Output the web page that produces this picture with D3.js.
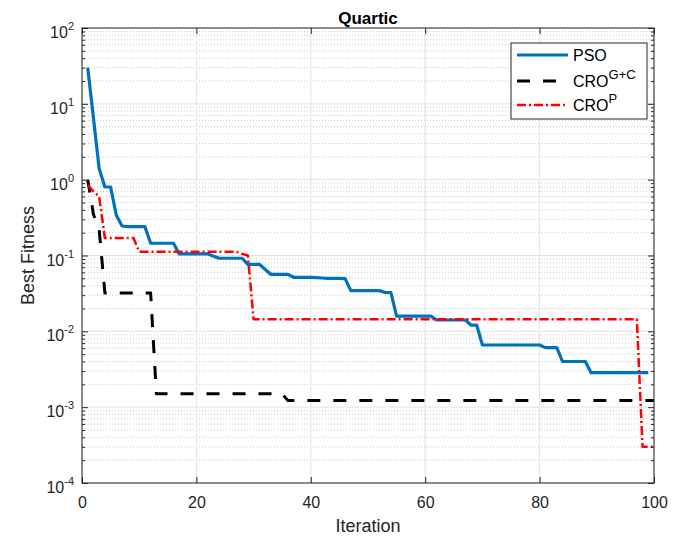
<!DOCTYPE html>
<html><head><meta charset="utf-8">
<script src="https://cdn.jsdelivr.net/npm/d3@7"></script>
<style>
body{margin:0;background:#fff}
text{font-family:"Liberation Sans",Arial,Helvetica,sans-serif}
</style>
</head><body>
<svg id="c" width="698" height="537"></svg>
<script>
// ---------- data ----------
const psoValues = [30, 6.5, 1.4, 0.8, 0.8, 0.34, 0.245, 0.24, 0.24, 0.24,
  0.24, 0.145, 0.145, 0.145, 0.145, 0.145, 0.105, 0.105, 0.105, 0.105,
  0.105, 0.105, 0.098, 0.092, 0.092, 0.092, 0.092, 0.092, 0.0766, 0.0766,
  0.0766, 0.066, 0.0565, 0.0565, 0.0565, 0.0565, 0.0516, 0.0516, 0.0516, 0.0516,
  0.051, 0.0505, 0.05, 0.05, 0.05, 0.0495, 0.0344, 0.0344, 0.0344, 0.0344,
  0.0344, 0.0344, 0.0325, 0.0325, 0.0159, 0.0159, 0.0159, 0.0159, 0.0159, 0.0159,
  0.0159, 0.0141, 0.0141, 0.0141, 0.0141, 0.0141, 0.0141, 0.0121, 0.0121, 0.0066,
  0.0066, 0.0066, 0.0066, 0.0066, 0.0066, 0.0066, 0.0066, 0.0066, 0.0066, 0.0066,
  0.0061, 0.0061, 0.0061, 0.004, 0.004, 0.004, 0.004, 0.004, 0.00285, 0.00285,
  0.00285, 0.00285, 0.00285, 0.00285, 0.00285, 0.00285, 0.00285, 0.00285, 0.00285];

const croGCValues = [1.0, 0.35, 0.22, 0.032, 0.032, 0.032, 0.032, 0.032, 0.032, 0.032,
  0.032, 0.032, 0.0015, 0.0015, 0.0015, 0.0015, 0.0015, 0.0015, 0.0015, 0.0015,
  0.0015, 0.0015, 0.0015, 0.0015, 0.0015, 0.0015, 0.0015, 0.0015, 0.0015, 0.0015,
  0.0015, 0.0015, 0.0015, 0.0015, 0.0015, 0.00122, 0.00122, 0.00122, 0.00122, 0.00122,
  0.00122, 0.00122, 0.00122, 0.00122, 0.00122, 0.00122, 0.00122, 0.00122, 0.00122, 0.00122,
  0.00122, 0.00122, 0.00122, 0.00122, 0.00122, 0.00122, 0.00122, 0.00122, 0.00122, 0.00122,
  0.00122, 0.00122, 0.00122, 0.00122, 0.00122, 0.00122, 0.00122, 0.00122, 0.00122, 0.00122,
  0.00122, 0.00122, 0.00122, 0.00122, 0.00122, 0.00122, 0.00122, 0.00122, 0.00122, 0.00122,
  0.00122, 0.00122, 0.00122, 0.00122, 0.00122, 0.00122, 0.00122, 0.00122, 0.00122, 0.00122,
  0.00122, 0.00122, 0.00122, 0.00122, 0.00122, 0.00122, 0.00122, 0.00122, 0.00122, 0.00122];

const croPValues = [0.85, 0.7, 0.6, 0.17, 0.17, 0.17, 0.17, 0.17, 0.17, 0.112,
  0.112, 0.112, 0.112, 0.112, 0.112, 0.112, 0.112, 0.112, 0.112, 0.112,
  0.112, 0.112, 0.112, 0.112, 0.112, 0.112, 0.112, 0.105, 0.1, 0.0144,
  0.0144, 0.0144, 0.0144, 0.0144, 0.0144, 0.0144, 0.0144, 0.0144, 0.0144, 0.0144,
  0.0144, 0.0144, 0.0144, 0.0144, 0.0144, 0.0144, 0.0144, 0.0144, 0.0144, 0.0144,
  0.0144, 0.0144, 0.0144, 0.0144, 0.0144, 0.0144, 0.0144, 0.0144, 0.0144, 0.0144,
  0.0144, 0.0144, 0.0144, 0.0144, 0.0144, 0.0144, 0.0144, 0.0144, 0.0144, 0.0144,
  0.0144, 0.0144, 0.0144, 0.0144, 0.0144, 0.0144, 0.0144, 0.0144, 0.0144, 0.0144,
  0.0144, 0.0144, 0.0144, 0.0144, 0.0144, 0.0144, 0.0144, 0.0144, 0.0144, 0.0144,
  0.0144, 0.0144, 0.0144, 0.0144, 0.0144, 0.0144, 0.0144, 0.0003, 0.0003, 0.0003];

const seriesNames = ["PSO", "CRO", "CRO"];
const seriesSup = ["", "G+C", "P"];
const xTicks = [0, 20, 40, 60, 80, 100];
const yExponents = [-4, -3, -2, -1, 0, 1, 2];

// ---------- layout ----------
const L = 82, R = 654, T = 28, B = 483;
const axisColor = "#262626";
const svg = d3.select("#c");
const x = d3.scaleLinear().domain([0, 100]).range([L, R]);
const y = d3.scaleLog().domain([1e-4, 1e2]).range([B, T]);

const yMajor = yExponents.map(e => Math.pow(10, e));
const yMinor = y.ticks().filter(v => !yMajor.some(m => Math.abs(Math.log10(v) - Math.log10(m)) < 1e-6));

// grid
const g = svg.append("g");
g.selectAll(".ymin").data(yMinor).join("line")
  .attr("x1", L).attr("x2", R).attr("y1", d => y(d)).attr("y2", d => y(d))
  .attr("stroke", "#c8c8c8").attr("stroke-width", 1).attr("stroke-dasharray", "1,2");
g.selectAll(".ymaj").data(yMajor).join("line")
  .attr("x1", L).attr("x2", R).attr("y1", d => y(d)).attr("y2", d => y(d))
  .attr("stroke", "#e3e3e3").attr("stroke-width", 1);
g.selectAll(".xmaj").data(xTicks).join("line")
  .attr("x1", d => x(d)).attr("x2", d => x(d)).attr("y1", T).attr("y2", B)
  .attr("stroke", "#e3e3e3").attr("stroke-width", 1);

// lines
const mk = vals => vals.map((v, i) => [i + 1, v]);
const line = d3.line().x(d => x(d[0])).y(d => y(d[1]));
svg.append("clipPath").attr("id", "cp").append("rect")
  .attr("x", L).attr("y", T).attr("width", R - L).attr("height", B - T);
const lines = svg.append("g").attr("clip-path", "url(#cp)");
const styles = [
  {c: "#0072BD", w: 3.2, d: null},
  {c: "#000000", w: 3, d: "13,13"},
  {c: "#FF0000", w: 2.5, d: "9,3,2,3"}
];
const allSeries = [psoValues, croGCValues, croPValues];
allSeries.forEach((vals, i) => {
  lines.append("path").datum(mk(vals)).attr("d", line)
    .attr("fill", "none").attr("stroke", styles[i].c).attr("stroke-width", styles[i].w)
    .attr("stroke-dasharray", styles[i].d).attr("stroke-linejoin", "round");
});

// axes
function styleAxis(sel) {
  sel.select(".domain").remove();
  sel.selectAll(".tick line").attr("stroke", axisColor);
  sel.selectAll("text").attr("fill", axisColor).attr("font-size", 16)
    .attr("font-family", "'Liberation Sans',Arial,Helvetica,sans-serif");
}
svg.append("g").attr("transform", `translate(0,${B})`)
  .call(d3.axisBottom(x).tickValues(xTicks).tickSizeInner(-6).tickSizeOuter(0).tickPadding(14))
  .call(styleAxis);
svg.append("g").attr("transform", `translate(0,${T})`)
  .call(d3.axisTop(x).tickValues(xTicks).tickSizeInner(-6).tickSizeOuter(0).tickFormat(""))
  .call(styleAxis);
svg.append("g").attr("transform", `translate(${L},0)`)
  .call(d3.axisLeft(y).tickValues(yMajor).tickSizeInner(-6).tickSizeOuter(0).tickFormat(""))
  .call(styleAxis);
svg.append("g").attr("transform", `translate(${L},0)`)
  .call(d3.axisLeft(y).tickValues(yMinor).tickSizeInner(-3).tickSizeOuter(0).tickFormat(""))
  .call(styleAxis);
svg.append("g").attr("transform", `translate(${R},0)`)
  .call(d3.axisRight(y).tickValues(yMajor).tickSizeInner(-6).tickSizeOuter(0).tickFormat(""))
  .call(styleAxis);
svg.append("g").attr("transform", `translate(${R},0)`)
  .call(d3.axisRight(y).tickValues(yMinor).tickSizeInner(-3).tickSizeOuter(0).tickFormat(""))
  .call(styleAxis);

// y tick labels with superscripts
const yl = svg.append("g");
yExponents.forEach(e => {
  const t = yl.append("text").attr("x", L - 8).attr("y", y(Math.pow(10, e)) + 10)
    .attr("text-anchor", "end").attr("fill", axisColor).attr("font-size", 16);
  t.append("tspan").text("10");
  t.append("tspan").attr("dy", -8).attr("font-size", 11).text(String(e));
});

// box
svg.append("rect").attr("x", L).attr("y", T).attr("width", R - L).attr("height", B - T)
  .attr("fill", "none").attr("stroke", axisColor).attr("stroke-width", 1);

// title & labels
svg.append("text").attr("x", (L + R) / 2).attr("y", 24).attr("text-anchor", "middle")
  .attr("font-weight", "bold").attr("font-size", 17).attr("fill", "#000").text("Quartic");
svg.append("text").attr("x", (L + R) / 2).attr("y", 532).attr("text-anchor", "middle")
  .attr("font-size", 18).attr("fill", axisColor).text("Iteration");
svg.append("text").attr("transform", `translate(34,${(T + B) / 2}) rotate(-90)`)
  .attr("text-anchor", "middle").attr("font-size", 18).attr("fill", axisColor).text("Best Fitness");

// legend
const lg = svg.append("g");
lg.append("rect").attr("x", 511).attr("y", 43).attr("width", 136).attr("height", 76)
  .attr("fill", "#fff").attr("stroke", axisColor).attr("stroke-width", 1);
const rowY = [55, 81, 105];
seriesNames.forEach((n, i) => {
  lg.append("line").attr("x1", 517).attr("x2", 568).attr("y1", rowY[i]).attr("y2", rowY[i])
    .attr("stroke", styles[i].c).attr("stroke-width", styles[i].w)
    .attr("stroke-dasharray", styles[i].d);
  const t = lg.append("text").attr("x", 573).attr("y", rowY[i] + 6)
    .attr("font-size", 16).attr("fill", "#000");
  t.append("tspan").text(n);
  if (seriesSup[i]) t.append("tspan").attr("dy", -8).attr("font-size", 13).text(seriesSup[i]);
});
</script>
</body></html>
